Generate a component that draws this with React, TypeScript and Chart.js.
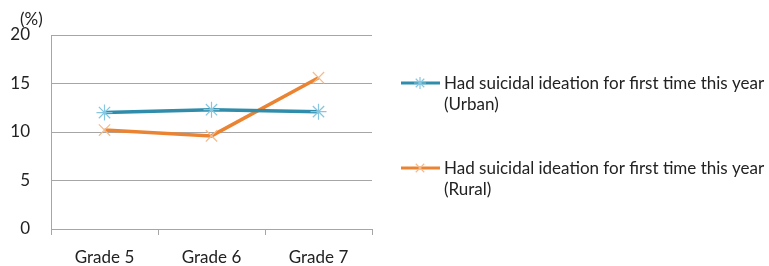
import React, { useEffect, useRef } from "react";
import { Chart, registerables } from "chart.js";

Chart.register(...registerables);

const categories = ["Grade 5", "Grade 6", "Grade 7"];
const urbanValues = [12.0, 12.3, 12.1];
const ruralValues = [10.2, 9.6, 15.6];
const seriesLabels = [
  ["Had suicidal ideation for first time this year", "(Urban)"],
  ["Had suicidal ideation for first time this year", "(Rural)"],
];
const yTicks = [0, 5, 10, 15, 20];
const unitLabel = "(%)";

const FONT = "Lato, 'Open Sans', sans-serif";

const legendPlugin = {
  id: "customLegend",
  afterDraw(chart: any) {
    const ctx = chart.ctx;
    ctx.save();
    ctx.font = `17px ${FONT}`;
    ctx.fillStyle = "#222";
    ctx.textAlign = "left";
    ctx.textBaseline = "middle";
    ctx.fillText(unitLabel, 20, 20);
    const rows = [83, 168];
    chart.data.datasets.forEach((ds: any, i: number) => {
      const y = rows[i];
      ctx.strokeStyle = ds.borderColor;
      ctx.lineWidth = 3;
      ctx.beginPath();
      ctx.moveTo(401, y);
      ctx.lineTo(440, y);
      ctx.stroke();
      ctx.strokeStyle = ds.pointBorderColor;
      ctx.lineWidth = 1.2;
      const r = 6;
      ctx.beginPath();
      const angles = ds.pointStyle === "star" ? [0, 45, 90, 135] : [45, 135];
      for (const a of angles) {
        const rad = (a * Math.PI) / 180;
        ctx.moveTo(420 - r * Math.cos(rad), y - r * Math.sin(rad));
        ctx.lineTo(420 + r * Math.cos(rad), y + r * Math.sin(rad));
      }
      ctx.stroke();
      ctx.font = `17px ${FONT}`;
      ctx.fillStyle = "#222";
      ctx.textAlign = "left";
      ctx.textBaseline = "middle";
      seriesLabels[i].forEach((t, j) => ctx.fillText(t, 444, y + 1 + j * 21));
    });
    ctx.restore();
  },
};

export default function App() {
  const ref = useRef<HTMLCanvasElement>(null);
  useEffect(() => {
    document.body.style.margin = "0";
    const chart = new Chart(ref.current!, {
      type: "line",
      data: {
        labels: categories,
        datasets: [
          {
            label: seriesLabels[0].join(" "),
            data: urbanValues,
            borderColor: "#2F8CAA",
            borderWidth: 3.5,
            pointStyle: "star",
            pointRadius: 8,
            pointBorderColor: "#86C6DF",
            pointBackgroundColor: "#86C6DF",
            pointBorderWidth: 1.2,
            tension: 0,
          },
          {
            label: seriesLabels[1].join(" "),
            data: ruralValues,
            borderColor: "#EA8432",
            borderWidth: 3.5,
            pointStyle: "crossRot",
            pointRadius: 8,
            pointBorderColor: "#F4BB8C",
            pointBackgroundColor: "#F4BB8C",
            pointBorderWidth: 1.2,
            tension: 0,
          },
        ],
      },
      options: {
        animation: false,
        responsive: false,
        layout: { padding: { left: 0, top: 35, right: 397, bottom: 0 } },
        plugins: { legend: { display: false }, tooltip: { enabled: false } },
        scales: {
          x: {
            offset: true,
            grid: {
              offset: true,
              drawOnChartArea: false,
              drawTicks: true,
              tickLength: 6,
              color: "#A6A6A6",
            },
            border: { display: true, color: "#A6A6A6" },
            ticks: { color: "#222", font: { family: FONT, size: 17 }, padding: 12 },
            afterFit(scale: any) {
              scale.height = 37;
            },
          },
          y: {
            min: 0,
            max: 20,
            afterBuildTicks(scale: any) {
              scale.ticks = yTicks.map((v) => ({ value: v }));
            },
            grid: { color: "#A6A6A6", drawTicks: false },
            border: { display: true, color: "#A6A6A6" },
            ticks: { color: "#222", font: { family: FONT, size: 17 }, padding: 21 },
            afterFit(scale: any) {
              scale.width = 51;
            },
          },
        },
      },
      plugins: [legendPlugin],
    });
    return () => chart.destroy();
  }, []);
  return (
    <div style={{ width: 769, height: 266 }}>
      <canvas ref={ref} width={769} height={266} />
    </div>
  );
}
